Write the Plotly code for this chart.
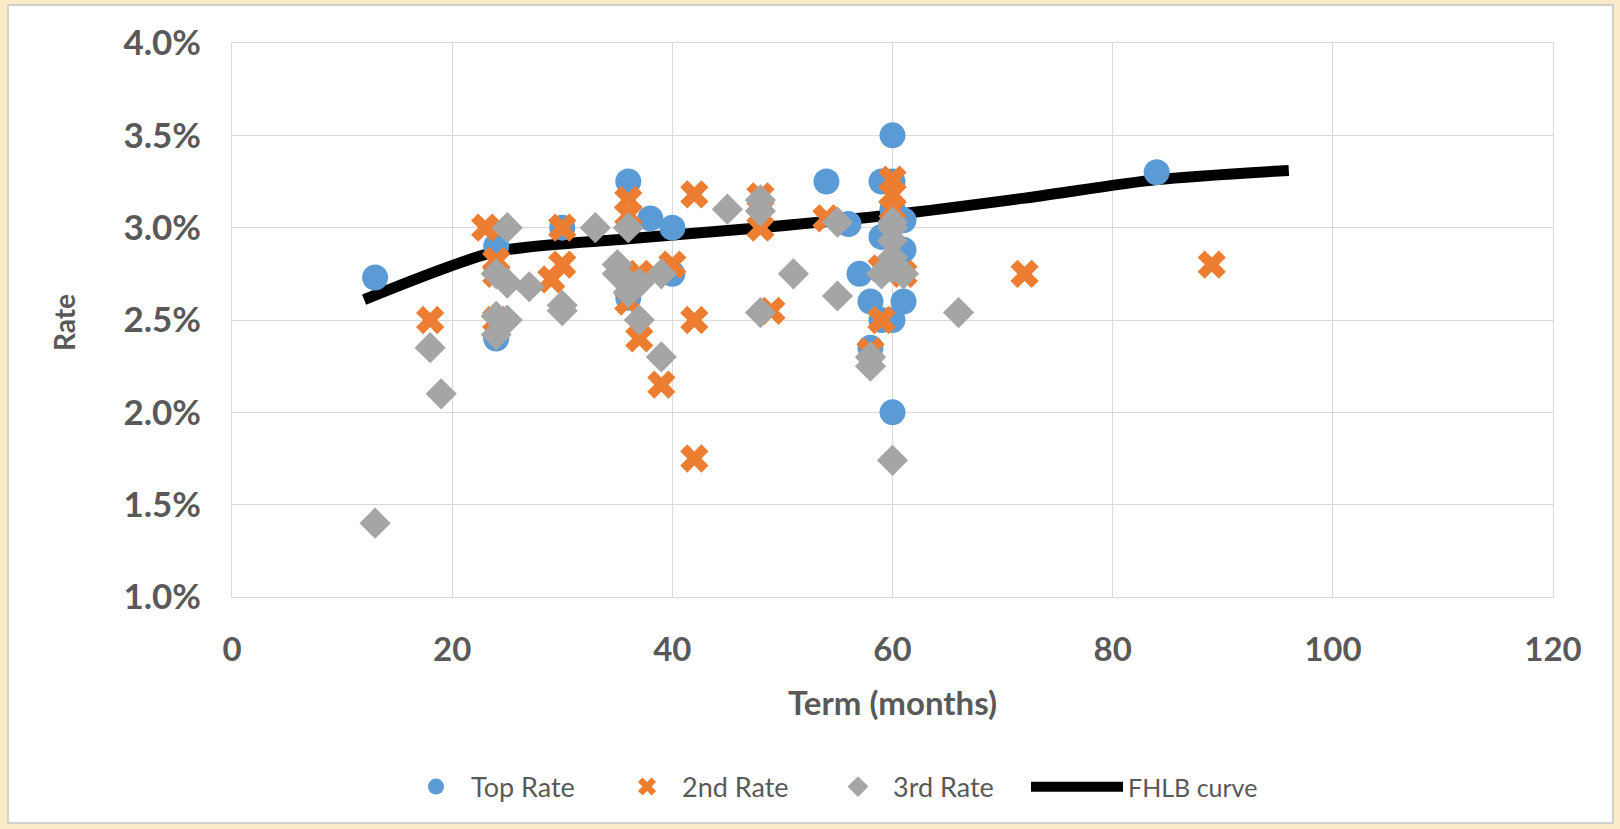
import plotly.graph_objects as go

# ---------------- data ----------------
term_top = [13, 24, 24, 30, 36, 36, 38, 40, 40, 54, 56, 57, 58, 58, 59, 59, 59,
            60, 60, 60, 60, 60, 61, 61, 61, 84]
rate_top = [2.73, 2.90, 2.40, 3.00, 3.25, 2.62, 3.05, 3.00, 2.75, 3.25, 3.02, 2.75, 2.60, 2.35, 3.25, 2.95, 2.50,
            3.50, 3.25, 3.10, 2.50, 2.00, 3.04, 2.88, 2.60, 3.30]

term_2nd = [18, 23, 24, 24, 24, 29, 30, 30, 36, 36, 36, 37, 37, 39, 40, 42, 42, 42,
            48, 48, 49, 54, 58, 59, 59, 60, 60, 60, 61, 72, 89]
rate_2nd = [2.50, 3.00, 2.82, 2.75, 2.50, 2.72, 3.00, 2.80, 3.15, 3.07, 2.60, 2.75, 2.40, 2.15, 2.80, 3.18, 2.50, 1.75,
            3.17, 3.00, 2.55, 3.05, 2.33, 2.50, 2.78, 3.26, 3.18, 3.10, 2.75, 2.75, 2.80]

term_3rd = [13, 18, 19, 24, 24, 24, 25, 25, 25, 27, 30, 30, 33, 35, 35, 36, 36, 36, 37, 37, 39, 39,
            45, 48, 48, 48, 51, 55, 55, 58, 58, 59, 60, 60, 60, 60, 60, 60, 61, 66]
rate_3rd = [1.40, 2.35, 2.10, 2.75, 2.52, 2.42, 3.00, 2.70, 2.50, 2.68, 2.58, 2.55, 3.00, 2.80, 2.75, 3.00, 2.70, 2.65, 2.70, 2.50, 2.75, 2.30,
            3.10, 3.15, 3.09, 2.54, 2.75, 3.03, 2.63, 2.30, 2.25, 2.75, 3.03, 3.00, 2.93, 2.84, 2.78, 1.74, 2.75, 2.54]

term_fhlb = [12, 24, 36, 48, 60, 72, 84, 96]
rate_fhlb = [2.61, 2.87, 2.94, 3.00, 3.07, 3.16, 3.26, 3.31]

x_ticks = [0, 20, 40, 60, 80, 100, 120]
y_ticks = [1.0, 1.5, 2.0, 2.5, 3.0, 3.5, 4.0]

# ---------------- layout geometry ----------------
W, H = 1620, 829
ML, MR, MT, MB = 232, 67, 43, 232
PW, PH = W - ML - MR, H - MT - MB


def pxx(p):
    return (p - ML) / PW


def pxy(p):
    return (H - MB - p) / PH


TXT = "#595959"
GRID = "#D9D9D9"
FONT = "Lato"

fig = go.Figure()

fig.add_trace(go.Scatter(
    x=term_fhlb, y=rate_fhlb, mode="lines", name="FHLB curve",
    line=dict(color="black", width=11, shape="spline", smoothing=0.7),
    legend="legend2"))

fig.add_trace(go.Scatter(
    x=term_top, y=rate_top, mode="markers", name="Top Rate",
    marker=dict(symbol="circle", size=26, color="#5B9BD5", line=dict(width=0))))

fig.add_trace(go.Scatter(
    x=term_2nd, y=rate_2nd, mode="markers", name="2nd Rate",
    marker=dict(symbol="x", size=25, color="#ED7D31", line=dict(width=0))))

fig.add_trace(go.Scatter(
    x=term_3rd, y=rate_3rd, mode="markers", name="3rd Rate",
    marker=dict(symbol="diamond", size=24, color="#A5A5A5", line=dict(width=0))))

fig.update_xaxes(
    range=[0, 120], tickvals=x_ticks, ticktext=[str(v) for v in x_ticks],
    showgrid=True, gridcolor=GRID, gridwidth=1,
    showline=True, linecolor=GRID, linewidth=1, mirror=True,
    zeroline=False, ticks="", ticklabelstandoff=23,
    tickfont=dict(family=FONT, size=33, color=TXT, weight="bold"))

fig.update_yaxes(
    range=[1.0, 4.0], tickvals=y_ticks, ticktext=[f"{v:.1f}%" for v in y_ticks],
    showgrid=True, gridcolor=GRID, gridwidth=1,
    showline=True, linecolor=GRID, linewidth=1, mirror=True,
    zeroline=False, ticks="", ticklabelstandoff=23,
    tickfont=dict(family=FONT, size=35, color=TXT, weight="bold"))

fig.update_layout(
    width=W, height=H,
    margin=dict(l=ML, r=MR, t=MT, b=MB, autoexpand=False),
    paper_bgcolor="#FBEBC9", plot_bgcolor="white",
    showlegend=True,
    legend=dict(orientation="h", x=pxx(401), y=pxy(787), xanchor="left", yanchor="middle",
                font=dict(family=FONT, size=27, color=TXT), itemwidth=60, entrywidth=136,
                bgcolor="rgba(0,0,0,0)", itemsizing="trace"),
    legend2=dict(orientation="h", x=pxx(1026), y=pxy(787), xanchor="left", yanchor="middle",
                 font=dict(family=FONT, size=25, color=TXT), itemwidth=92,
                 bgcolor="rgba(0,0,0,0)"),
    shapes=[dict(type="rect", xref="paper", yref="paper",
                 x0=pxx(8), x1=pxx(1613), y0=pxy(823), y1=pxy(5),
                 fillcolor="white", line=dict(color="#D0D0D0", width=2), layer="below")],
    annotations=[
        dict(text="Term (months)", xref="paper", yref="paper", x=pxx(892), y=pxy(702),
             showarrow=False, font=dict(family=FONT, size=33, color=TXT, weight="bold"),
             xanchor="center", yanchor="middle"),
        dict(text="Rate", xref="paper", yref="paper", x=pxx(64), y=pxy(323), textangle=-90,
             showarrow=False, font=dict(family=FONT, size=28, color=TXT, weight="bold"),
             xanchor="center", yanchor="middle"),
    ],
)

fig.write_html("out.html", config={"displayModeBar": False},
               post_script="document.body.style.margin='0px';")
